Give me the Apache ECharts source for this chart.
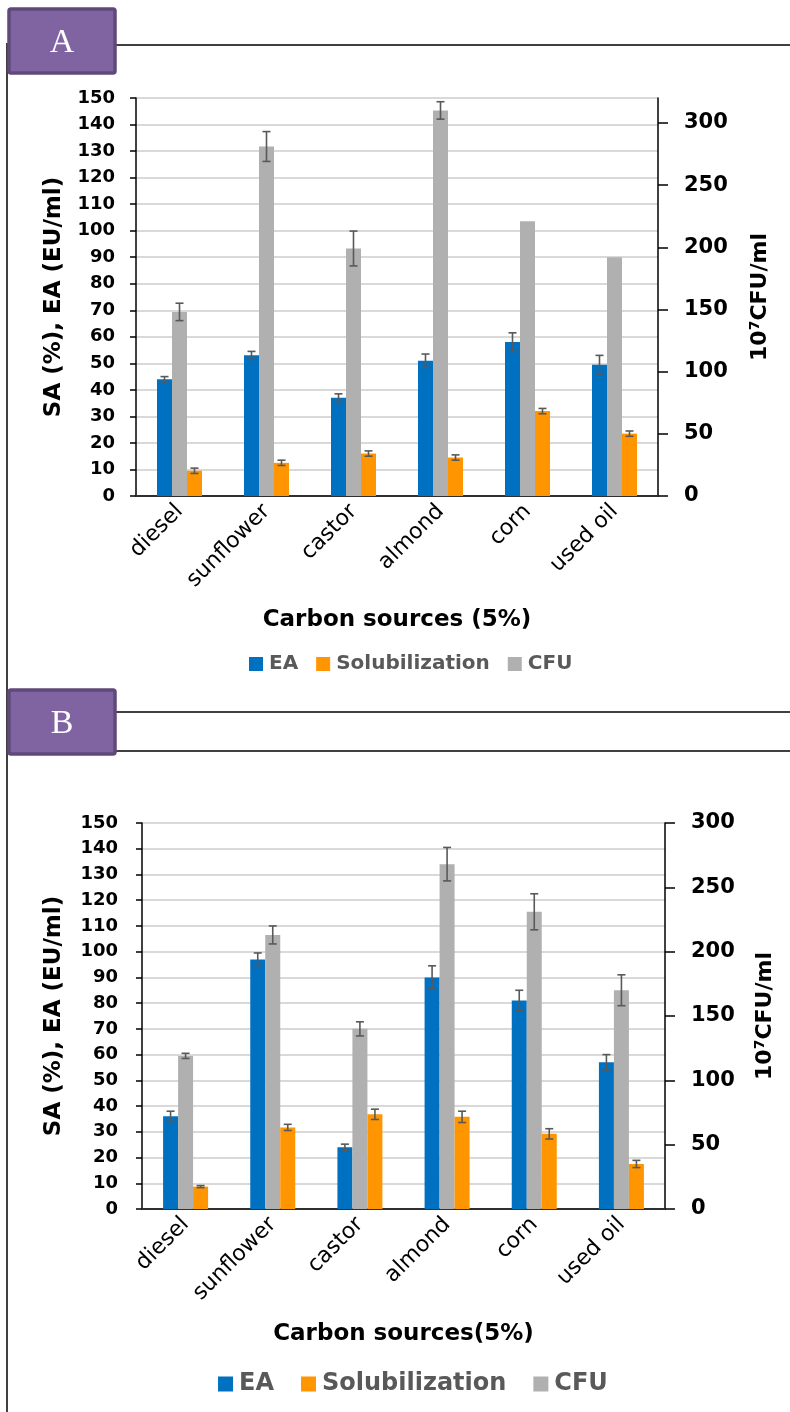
<!DOCTYPE html>
<html>
<head>
<meta charset="utf-8">
<script src="https://cdn.jsdelivr.net/npm/echarts@6/dist/echarts.min.js"></script>
<style>
  html, body { margin: 0; padding: 0; background: #ffffff; }
  #chart { width: 790px; height: 1412px; }
</style>
</head>
<body>
<div id="chart"></div>
<script>
// Carbon sources tested at 5%
const categories = ['diesel', 'sunflower', 'castor', 'almond', 'corn', 'used oil'];

// Panel A
const aEA = [44, 53, 37, 51, 58, 49.5];
const aEAErr = [1, 1.5, 1.5, 2.5, 3.5, 3.5];
const aSol = [9.5, 12.5, 16, 14.5, 32, 23.5];
const aSolErr = [1, 1, 1, 1, 1, 1];
const aCFU = [148, 281, 199, 310, 221, 192];
const aCFUErr = [7, 12, 14, 7, null, null];

// Panel B
const bEA = [36, 97, 24, 90, 81, 57];
const bEAErr = [2, 2.5, 1.2, 4.5, 4, 3];
const bSol = [8.7, 31.7, 36.8, 35.8, 29.2, 17.5];
const bSolErr = [0.4, 1.2, 2, 2.2, 2, 1.4];
const bCFU = [119, 213, 140, 268, 231, 170];
const bCFUErr = [2, 7, 5.5, 13, 14, 12];

// Axis ticks
const leftTicks = [0, 10, 20, 30, 40, 50, 60, 70, 80, 90, 100, 110, 120, 130, 140, 150];
const rightTicks = [0, 50, 100, 150, 200, 250, 300];

const FONT = "'DejaVu Sans', sans-serif";
const C_EA = '#0070C0', C_SOL = '#FF9500', C_CFU = '#B0B0B0';
const BAR_W = 15;
const CAP = 4;

function errorBars(xIdx, yIdx, values, errors, offset) {
  const data = [];
  values.forEach((v, i) => { if (errors[i] != null) data.push([i, v, errors[i]]); });
  return {
    type: 'custom', xAxisIndex: xIdx, yAxisIndex: yIdx, z: 5, silent: true,
    encode: { x: 0, y: 1 },
    data: data,
    renderItem: function (params, api) {
      const i = api.value(0), v = api.value(1), e = api.value(2);
      const hi = api.coord([i, v + e]);
      const lo = api.coord([i, v - e]);
      const x = hi[0] + offset;
      const style = { stroke: '#595959', lineWidth: 1.6 };
      return {
        type: 'group', children: [
          { type: 'line', shape: { x1: x, y1: hi[1], x2: x, y2: lo[1] }, style: style },
          { type: 'line', shape: { x1: x - CAP, y1: hi[1], x2: x + CAP, y2: hi[1] }, style: style },
          { type: 'line', shape: { x1: x - CAP, y1: lo[1], x2: x + CAP, y2: lo[1] }, style: style }
        ]
      };
    }
  };
}

function bar(name, xIdx, yIdx, data, color) {
  return {
    name: name, type: 'bar', xAxisIndex: xIdx, yAxisIndex: yIdx, data: data,
    barWidth: BAR_W, barGap: '0%', itemStyle: { color: color }, z: 2
  };
}

function bottomAxis(gridIndex, name, nameGap) {
  return {
    type: 'category', gridIndex: gridIndex, data: categories, position: 'bottom',
    axisLine: { lineStyle: { color: '#BFBFBF', width: 2 } },
    axisTick: { show: false },
    axisLabel: { rotate: 45, color: '#000', fontFamily: FONT, fontSize: 22, margin: 12, interval: 0 },
    name: name, nameLocation: 'middle', nameGap: nameGap,
    nameTextStyle: { color: '#000', fontFamily: FONT, fontWeight: 'bold', fontSize: 23 }
  };
}

function topAxis(gridIndex) {
  return {
    type: 'category', gridIndex: gridIndex, data: categories, position: 'top',
    axisLine: { lineStyle: { color: '#000', width: 1.5 } },
    axisTick: { show: false }, axisLabel: { show: false }
  };
}

function leftAxis(gridIndex, labelMargin, nameGap) {
  return {
    type: 'value', gridIndex: gridIndex, position: 'left', min: 0, max: 150, interval: 10,
    axisLine: { show: true, lineStyle: { color: '#000', width: 1.5 } },
    axisTick: { show: true, length: 6, lineStyle: { color: '#000', width: 1.5 } },
    axisLabel: { color: '#000', fontFamily: FONT, fontWeight: 'bold', fontSize: 18, margin: labelMargin },
    splitLine: { show: true, lineStyle: { color: '#D9D9D9', width: 2 } },
    name: 'SA (%), EA (EU/ml)', nameLocation: 'middle', nameGap: nameGap, nameRotate: 90,
    nameTextStyle: { color: '#000', fontFamily: FONT, fontWeight: 'bold', fontSize: 23 }
  };
}

function rightAxis(gridIndex, max, nameGap) {
  return {
    type: 'value', gridIndex: gridIndex, position: 'right', min: 0, max: max, interval: 50,
    axisLine: { show: true, lineStyle: { color: '#000', width: 1.5 } },
    axisTick: { show: true, length: 10, customValues: rightTicks, lineStyle: { color: '#000', width: 1.5 } },
    axisLabel: { color: '#000', fontFamily: FONT, fontWeight: 'bold', fontSize: 21, margin: 26, customValues: rightTicks },
    splitLine: { show: false },
    name: '10{s|7}CFU/ml', nameLocation: 'middle', nameGap: nameGap, nameRotate: 90,
    nameTextStyle: {
      color: '#000', fontFamily: FONT, fontWeight: 'bold', fontSize: 22,
      rich: { s: { fontFamily: FONT, fontWeight: 'bold', fontSize: 14, color: '#000', padding: [0, 0, 10, 0] } }
    }
  };
}

function legend(left, top, fontSize, icon, gap) {
  return {
    top: top, left: left, data: ['EA', 'Solubilization', 'CFU'],
    icon: 'rect', itemWidth: icon, itemHeight: icon, itemGap: gap, selectedMode: false,
    textStyle: { color: '#595959', fontFamily: FONT, fontWeight: 'bold', fontSize: fontSize, padding: [0, 0, 0, 1] }
  };
}

function panelBox(y, letter) {
  return [
    { type: 'rect', shape: { x: 9, y: y, width: 106, height: 64, r: 2 },
      style: { fill: '#8064A2', stroke: '#5F497A', lineWidth: 3.5 }, z: 10 },
    { type: 'text', x: 62, y: y + 34, z: 11,
      style: { text: letter, fill: '#ffffff', font: "34px 'Liberation Serif', serif", align: 'center', verticalAlign: 'middle' } }
  ];
}

const chart = echarts.init(document.getElementById('chart'), null, { renderer: 'canvas' });

chart.setOption({
  backgroundColor: '#ffffff',
  animation: false,
  grid: [
    { left: 136, right: 132, top: 98, height: 398 },
    { left: 142, right: 125, top: 823, height: 386 }
  ],
  xAxis: [
    bottomAxis(0, 'Carbon sources (5%)', 113), topAxis(0),
    bottomAxis(1, 'Carbon sources(5%)', 114), topAxis(1)
  ],
  yAxis: [leftAxis(0, 21, 70), rightAxis(0, 320, 90), leftAxis(1, 24, 76), rightAxis(1, 300, 88)],
  legend: [legend(244, 649, 20, 14, 18), legend(213, 1367, 24, 15, 27)],
  series: [
    bar('EA', 0, 0, aEA, C_EA),
    bar('CFU', 0, 1, aCFU, C_CFU),
    bar('Solubilization', 0, 0, aSol, C_SOL),
    errorBars(0, 0, aEA, aEAErr, -BAR_W),
    errorBars(0, 1, aCFU, aCFUErr, 0),
    errorBars(0, 0, aSol, aSolErr, BAR_W),

    bar('EA', 2, 2, bEA, C_EA),
    bar('CFU', 2, 3, bCFU, C_CFU),
    bar('Solubilization', 2, 2, bSol, C_SOL),
    errorBars(2, 2, bEA, bEAErr, -BAR_W),
    errorBars(2, 3, bCFU, bCFUErr, 0),
    errorBars(2, 2, bSol, bSolErr, BAR_W)
  ],
  graphic: [
    { type: 'line', shape: { x1: 7, y1: 43, x2: 7, y2: 1412 }, style: { stroke: '#000', lineWidth: 1.5 }, z: 1 },
    { type: 'line', shape: { x1: 116, y1: 45, x2: 790, y2: 45 }, style: { stroke: '#000', lineWidth: 1.5 }, z: 1 },
    { type: 'line', shape: { x1: 116, y1: 712, x2: 790, y2: 712 }, style: { stroke: '#000', lineWidth: 1.5 }, z: 1 },
    { type: 'line', shape: { x1: 116, y1: 751, x2: 790, y2: 751 }, style: { stroke: '#000', lineWidth: 1.5 }, z: 1 }
  ].concat(panelBox(9, 'A'), panelBox(690, 'B'))
});
</script>
</body>
</html>
